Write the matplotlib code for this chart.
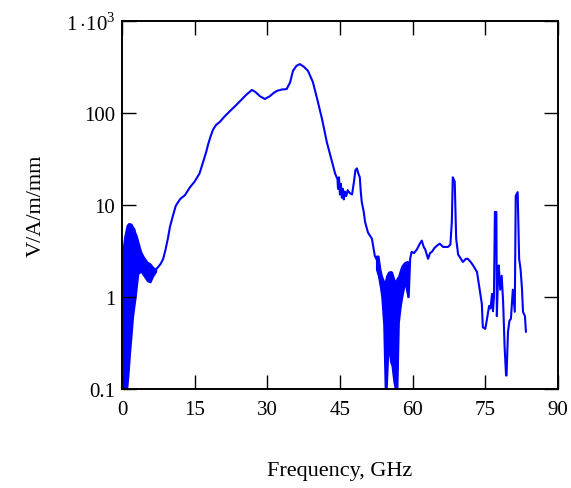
import matplotlib
matplotlib.use('Agg')
import matplotlib.pyplot as plt
from matplotlib.ticker import FixedLocator, FixedFormatter, NullLocator

plt.rcParams['font.family'] = ['Liberation Serif', 'DejaVu Serif']
plt.rcParams['mathtext.fontset'] = 'custom'
plt.rcParams['mathtext.rm'] = 'Liberation Serif'

# noisy band near 0 GHz (upper / lower envelope)
band1_f = [0, 0.5, 1.0, 1.3, 1.6, 1.9, 2.2, 2.5, 2.7, 3.0, 3.3, 3.9, 4.5, 5.2, 5.8, 6.4, 7.0]
band1_hi = [2.7, 4.5, 6.0, 6.3, 6.3, 6.2, 5.8, 5.5, 5.0, 4.6, 4.0, 3.1, 2.7, 2.4, 2.3, 2.1, 2.0]
band1_lo = [0.1, 0.1, 0.1, 0.15, 0.25, 0.38, 0.6, 0.8, 0.95, 1.3, 1.8, 1.9, 1.7, 1.5, 1.45, 1.7, 1.9]

# noisy band around 53-59 GHz
band2_f = [52.5, 52.9, 53.3, 53.6, 54.0, 54.3, 54.6, 55.0, 55.4, 55.7, 56.1, 56.4, 56.8, 57.1, 57.5, 57.8, 58.4, 59.0]
band2_hi = [2.8, 2.8, 2.0, 1.7, 1.5, 1.45, 1.7, 1.87, 1.9, 1.87, 1.6, 1.45, 1.6, 1.7, 2.0, 2.2, 2.4, 2.4]
band2_lo = [2.0, 1.7, 1.3, 1.0, 0.5, 0.1, 0.1, 0.32, 0.2, 0.18, 0.12, 0.1, 0.1, 0.53, 0.8, 1.0, 1.45, 1.0]

# main trace
freq = [7.0, 7.4, 8.0, 8.5, 9.0, 9.5, 9.9, 10.5, 11.1, 12.0, 13.0, 14.0, 15.0, 16.0, 16.8, 17.4,
        17.8, 18.3, 18.8, 19.4, 20.2, 21.2, 22.3, 23.3, 24.4, 25.5, 26.8, 27.5, 28.5, 29.5, 30.5,
        31.3, 32.0, 33.0, 34.0, 34.7, 35.3, 36.0, 36.7, 37.5, 38.4, 39.4, 40.3, 41.3, 42.3, 43.4,
        44.0, 44.5, 44.6, 44.8, 45.0, 45.2, 45.4, 45.6, 45.8, 46.0, 46.3, 46.6, 47.0, 47.5, 47.9,
        48.2, 48.5, 48.8, 49.1, 49.3, 49.5, 49.9, 50.2, 50.8, 51.6, 52.2, 52.5]
val = [2.0, 2.1, 2.3, 2.6, 3.3, 4.4, 5.8, 7.6, 9.8, 11.6, 12.8, 15.5, 18, 22, 30, 38,
       46, 56, 66, 74, 80, 92, 105, 118, 135, 155, 178, 170, 152, 142, 152,
       165, 174, 180, 182, 215, 287, 325, 340, 320, 287, 218, 142, 86, 48, 29,
       22, 19, 15, 20, 13, 17, 12, 15, 11.5, 14, 12.5, 14.5, 13.5, 13, 18,
       24, 25, 22, 20, 14, 10.8, 8.5, 6.5, 5.0, 4.3, 2.8, 2.6]

freq2 = [59.0, 59.2, 59.5, 59.8, 60.3, 60.9, 61.5, 61.9, 62.3, 62.6, 63.0, 63.2, 63.6, 64.0, 64.5,
         65.0, 65.6, 66.3, 67.3, 67.8, 68.1, 68.3, 68.7, 69.0, 69.4, 70.4, 71.0, 71.4, 72.0, 72.5,
         73.3, 73.9, 74.3, 74.5, 75.0, 75.3, 75.8, 76.1, 76.4, 76.6, 76.8, 77.0, 77.3, 77.4, 77.6,
         77.8, 78.1, 78.4, 78.7, 79.0, 79.3, 79.4, 79.7, 80.0, 80.3, 80.7, 81.1, 81.3, 81.7, 82.0,
         82.3, 82.6, 82.8, 83.2, 83.4]
val2 = [2.4, 1.0, 2.6, 3.1, 3.0, 3.3, 3.8, 4.1, 3.5, 3.3, 2.8, 2.6, 3.0, 3.1, 3.4,
        3.6, 3.8, 3.5, 3.5, 3.7, 6.5, 20, 18, 4.3, 2.9, 2.4, 2.6, 2.6, 2.4, 2.2,
        1.87, 1.16, 0.84, 0.47, 0.45, 0.55, 0.8, 0.75, 1.08, 0.7, 1.0, 8.4, 8.4, 0.62, 1.4,
        2.2, 1.2, 1.7, 0.88, 0.29, 0.14, 0.14, 0.42, 0.55, 0.58, 1.2, 0.69, 12.6, 13.8, 2.6,
        2.0, 1.2, 0.69, 0.62, 0.42]

y_ticks = [0.1, 1, 10, 100, 1000]
y_labels = ['0.1', '1', '10', '100', r'$1\,{\cdot}10^3$']
x_ticks = [0, 15, 30, 45, 60, 75, 90]

blue = '#0000ff'
fig = plt.figure(figsize=(5.71, 4.89), dpi=100)
ax = fig.add_axes([0.2137, 0.2025, 0.7633, 0.7525])

ax.fill_between(band1_f, band1_lo, band1_hi, color=blue, lw=1.2)
ax.fill_between(band2_f, band2_lo, band2_hi, color=blue, lw=1.2)
ax.plot(freq, val, color=blue, lw=1.5)
ax.plot(freq2, val2, color=blue, lw=1.5)

ax.set_yscale('log')
ax.set_xlim(0, 90)
ax.set_ylim(0.1, 1000)
ax.xaxis.set_major_locator(FixedLocator(x_ticks))
ax.yaxis.set_major_locator(FixedLocator(y_ticks))
ax.yaxis.set_major_formatter(FixedFormatter(y_labels))
ax.yaxis.set_minor_locator(NullLocator())
ax.tick_params(direction='in', length=10, width=1.0, top=True, right=True,
               labelsize=15, pad=8)
ax.tick_params(axis='y', pad=5)
for s in ax.spines.values():
    s.set_linewidth(1.4)

ax.set_xlabel('Frequency, GHz', fontsize=16, labelpad=30)
ax.set_ylabel('V/A/m/mm', fontsize=16, labelpad=14)

plt.savefig('out.png', dpi=100)
